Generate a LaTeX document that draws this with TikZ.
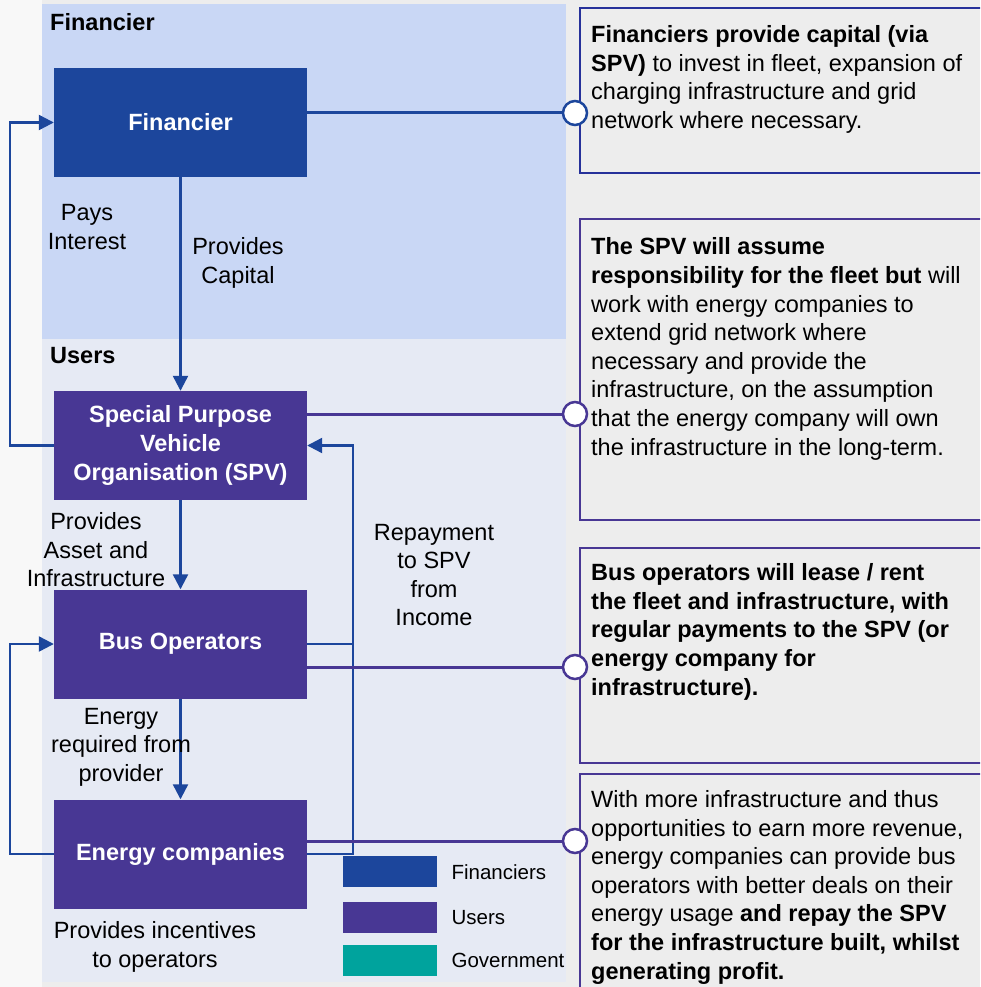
\documentclass[tikz,border=0pt]{standalone}
\usepackage{fontspec}
\setmainfont{Liberation Sans}
\usetikzlibrary{arrows.meta, positioning}
\definecolor{mfin}{HTML}{1C469C}
\definecolor{muser}{HTML}{483794}
\definecolor{mgov}{HTML}{00A39D}
\definecolor{mnoteblue}{HTML}{26319A}
\definecolor{mlightfin}{HTML}{C9D7F5}
\definecolor{mlightuser}{HTML}{E6EAF4}
\definecolor{mbg}{HTML}{EDEDED}
\tikzset{
  actor/.style={minimum width=253pt, minimum height=109pt, inner sep=0pt,
                text=white, align=center, font=\bfseries\fontsize{23.5}{29}\selectfont},
  fbox/.style={actor, fill=mfin},
  ubox/.style={actor, fill=muser},
  notebox/.style={draw=muser, line width=2.2pt, minimum width=421pt,
                  inner sep=0pt, anchor=north west},
  notetext/.style={align=left, inner sep=0pt, anchor=base west,
                   font=\fontsize{23.5}{28.6}\selectfont},
  lbl/.style={align=center, inner sep=0pt, font=\fontsize{23.5}{28.5}\selectfont},
  keybox/.style={minimum width=94pt, minimum height=31pt, inner sep=0pt},
  keytext/.style={anchor=west, inner sep=0pt, font=\fontsize{20.5}{24}\selectfont},
  arr/.style={-{Triangle[length=15pt, width=15pt]}, line width=2.3pt, mfin},
  flow/.style={line width=2.3pt, mfin},
  link/.style={line width=3pt, muser},
  knob/.style={circle, draw=muser, fill=white, line width=2.5pt,
               minimum size=24pt, inner sep=0pt},
}

\begin{document}
\begin{tikzpicture}[x=1pt, y=-1pt]

  \clip (0,0) rectangle (980,987);
  \fill[mbg] (0,0) rectangle (980,987);
  \fill[white!60!mbg] (0,0) rectangle (42,987);

  % Panels
  \fill[mlightfin] (42,4) rectangle (566,339);
  \fill[mlightuser] (42,339) rectangle (566,982);
  \node[anchor=west, inner sep=0pt, font=\bfseries\fontsize{23.5}{28}\selectfont]
    (pfin) at (50,22) {Financier};
  \node[anchor=west, inner sep=0pt, font=\bfseries\fontsize{23.5}{28}\selectfont]
    (puser) at (50,356) {Users};

  % Node 0: Financier
  \node[fbox] (fin) at (180.5,122.5) {Financier};

  % Node 1: SPV
  \node[ubox] (spv) at (180.5,445.5) {Special Purpose\\Vehicle\\Organisation (SPV)};

  % Node 2: Bus Operators
  \node[ubox] (bus) at (180.5,644) {Bus Operators};

  % Node 3: Energy companies
  \node[ubox] (energy) at (180.5,854) {Energy companies};

  % Arrows down the chain
  \draw[arr] (fin.south) -- (spv.north);
  \draw[arr] (spv.south) -- (bus.north);
  \draw[arr] (bus.south) -- (energy.north);

  % Loops on the left
  \coordinate (lp) at (10,0);
  \draw[arr] (spv.west) -- (spv.west -| lp) -- (lp |- fin.west) -- (fin.west);
  \draw[arr] (energy.west) -- (energy.west -| lp) -- (lp |- bus.west) -- (bus.west);

  % Repayment back to SPV
  \coordinate (rp) at (353,0);
  \draw[arr] (energy.east) -- (energy.east -| rp) -- (rp |- spv.east) -- (spv.east);
  \draw[flow] (bus.east) -- (bus.east -| rp);

  % Flow labels
  \node[lbl] (lpay) at (87,227) {Pays\\Interest};
  \node[lbl] (lcap) at (238,263) {Provides\\Capital};
  \node[lbl] (lasset) at (96,550) {Provides\\Asset and\\Infrastructure};
  \node[lbl] (lenergy) at (121,747) {Energy\\required from\\provider};
  \node[lbl] (lrepay) at (434,575) {Repayment\\to SPV\\from\\Income};
  \node[lbl] (lincent) at (155,947) {Provides incentives\\to operators};

  % Legend
  \node[keybox, fill=mfin, anchor=north west] (kfin) at (343,856) {};
  \node[keybox, fill=muser, anchor=north west] (kuser) at (343,902) {};
  \node[keybox, fill=mgov, anchor=north west] (kgov) at (343,945) {};
  \node[keytext, right=14pt of kfin] {Financiers};
  \node[keytext, right=14pt of kuser] {Users};
  \node[keytext, right=14pt of kgov] {Government};

  % Notes on the right
  \node[notebox, draw=mnoteblue, minimum height=165pt] (note1) at (579,7) {};
  \node[notebox, minimum height=301pt] (note2) at (579,218) {};
  \node[notebox, minimum height=215pt] (note3) at (579,547) {};
  \node[notebox, minimum height=240pt] (note4) at (579,773) {};

  % text nodes sit on the baseline of their last line
  \node[notetext] (t1) at (591,128.5)
    {\textbf{Financiers provide capital (via}\\
     \textbf{SPV)} to invest in fleet, expansion of\\
     charging infrastructure and grid\\
     network where necessary.};
  \node[notetext] (t2) at (591,455)
    {\textbf{The SPV will assume}\\
     \textbf{responsibility for the fleet but} will\\
     work with energy companies to\\
     extend grid network where\\
     necessary and provide the\\
     infrastructure, on the assumption\\
     that the energy company will own\\
     the infrastructure in the long-term.};
  \node[notetext, font=\bfseries\fontsize{23.5}{28.6}\selectfont] (t3) at (591,695)
    {Bus operators will lease / rent\\
     the fleet and infrastructure, with\\
     regular payments to the SPV (or\\
     energy company for\\
     infrastructure).};
  \node[notetext] (t4) at (591,979)
    {With more infrastructure and thus\\
     opportunities to earn more revenue,\\
     energy companies can provide bus\\
     operators with better deals on their\\
     energy usage \textbf{and repay the SPV}\\
     \textbf{for the infrastructure built, whilst}\\
     \textbf{generating profit.}};

  % Knobs linking boxes to notes
  \node[knob, draw=mfin] (c1) at (575,113) {};
  \node[knob] (c2) at (575,414) {};
  \node[knob] (c3) at (575,667) {};
  \node[knob] (c4) at (575,841) {};
  \draw[flow, line width=3pt] (c1 -| fin.east) -- (c1.west);
  \draw[link] (c2 -| spv.east) -- (c2.west);
  \draw[link] (c3 -| bus.east) -- (c3.west);
  \draw[link] (c4 -| energy.east) -- (c4.west);

\end{tikzpicture}
\end{document}
